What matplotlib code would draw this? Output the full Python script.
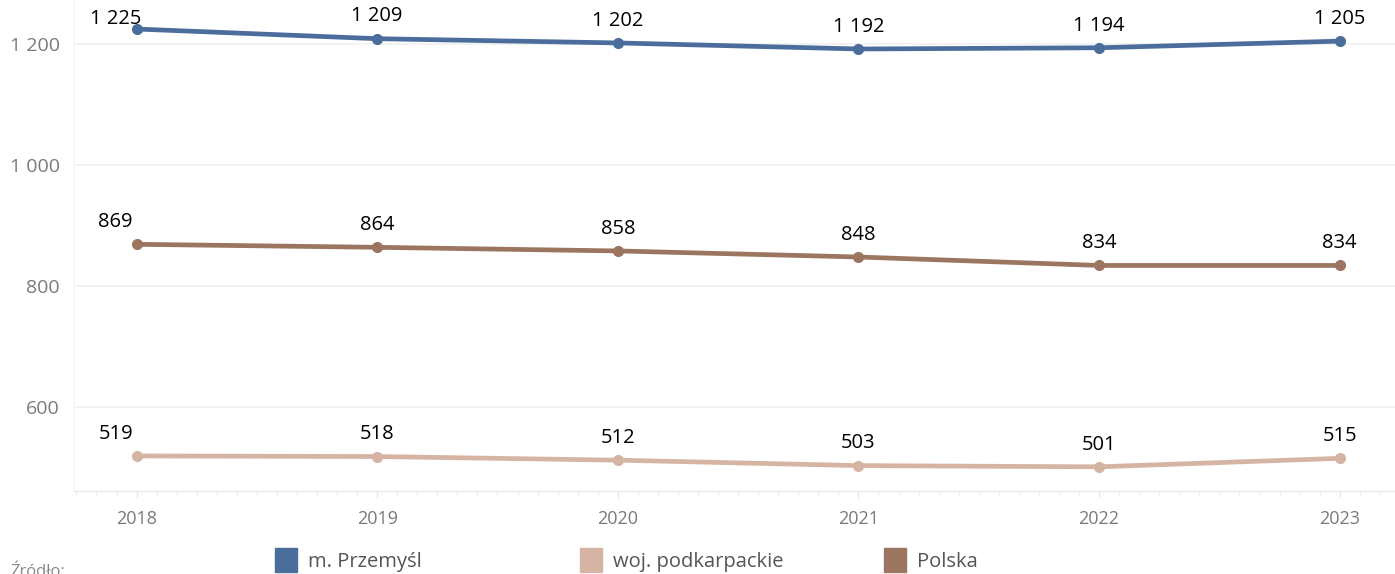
import matplotlib
matplotlib.use("Agg")
import matplotlib.pyplot as plt
from matplotlib.patches import Rectangle
from matplotlib.ticker import MultipleLocator, FuncFormatter

plt.rcParams['font.family'] = ['Open Sans', 'DejaVu Sans']

# dane
lata = [2018, 2019, 2020, 2021, 2022, 2023]
przemysl = [1225, 1209, 1202, 1192, 1194, 1205]
podkarpackie = [519, 518, 512, 503, 501, 515]
polska = [869, 864, 858, 848, 834, 834]

serie = ["m. Przemyśl", "woj. podkarpackie", "Polska"]
kolory = ["#4a6d9c", "#d6b4a4", "#9b7560"]
wartosci = [przemysl, podkarpackie, polska]

W, H = 1395, 574
fig = plt.figure(figsize=(W / 100, H / 100), dpi=100)
ax = fig.add_axes([74 / W, 1 - 491 / H, 1 - 74 / W, 491 / H])


def fmt(v, pos=None):
    return f"{int(v):,}".replace(",", " ")


for nazwa, kolor, vals in zip(serie, kolory, wartosci):
    ax.plot(lata, vals, color=kolor, lw=3.4, marker="o", ms=7,
            solid_capstyle="round", zorder=3)
    for i, (x, y) in enumerate(zip(lata, vals)):
        dx = -15 if i == 0 else 0
        dy = 16
        if y > 1215:
            dy = 7
        ax.annotate(fmt(y), (x, y), xytext=(dx, dy), textcoords="offset points",
                    ha="center", va="center", fontsize=14.5, color="black",
                    zorder=4)

ax.set_xlim(2017.74, 2023.23)
ax.set_ylim(461, 1273)

ax.yaxis.set_major_locator(MultipleLocator(200))
ax.yaxis.set_major_formatter(FuncFormatter(fmt))
ax.xaxis.set_major_locator(MultipleLocator(1))
ax.xaxis.set_minor_locator(MultipleLocator(1 / 12))
ax.xaxis.set_major_formatter(FuncFormatter(lambda v, p: f"{int(round(v))}"))

ax.grid(axis="y", color="#f0f0f0", lw=1.2, zorder=0)
for s in ["top", "right"]:
    ax.spines[s].set_visible(False)
ax.spines["left"].set_color("#f0f0f0")
ax.spines["bottom"].set_color("#e8e8e8")

ax.tick_params(axis="y", length=0, pad=10, labelsize=14, labelcolor="#7a7a7a")
ax.tick_params(axis="x", which="major", length=5, color="#e4e4e4", pad=9,
               labelsize=13, labelcolor="#7a7a7a")
ax.tick_params(axis="x", which="minor", length=3, color="#e8e8e8")

# legenda
leg_x = [275, 580, 884]
for nazwa, kolor, lx in zip(serie, kolory, leg_x):
    fig.add_artist(Rectangle((lx / W, 1 - 572 / H), 22 / W, 24 / H,
                             transform=fig.transFigure, color=kolor))
    fig.text((lx + 33) / W, 1 - 562 / H, nazwa, fontsize=14.5, color="#555555",
             ha="left", va="center")

fig.text(10 / W, 1 - 564 / H, "Źródło:", fontsize=12, color="#888888",
         ha="left", va="top")

fig.savefig("out.png", dpi=100)
